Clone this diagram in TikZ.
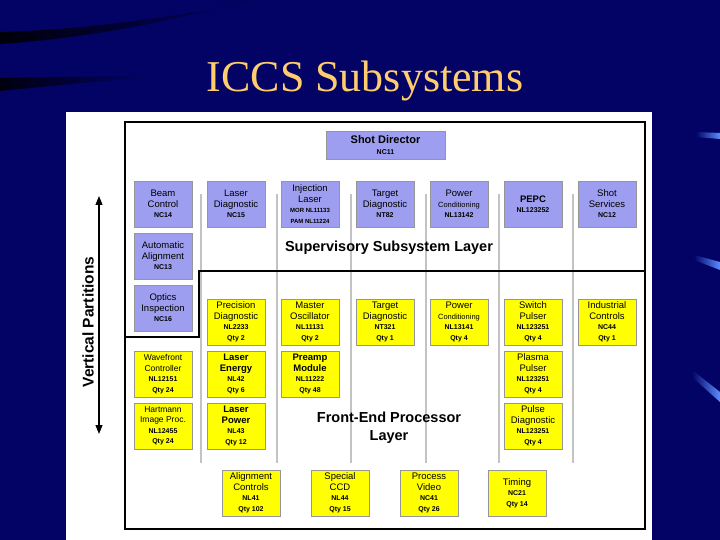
\documentclass[tikz,border=0pt]{standalone}
\usepackage{fontspec}
\setmainfont{Liberation Sans}
\newfontfamily\titlefont{Liberation Serif}
\usetikzlibrary{arrows.meta}
\definecolor{bg}{RGB}{3,3,102}
\definecolor{lav}{RGB}{158,158,240}
\definecolor{yel}{RGB}{255,255,0}
\definecolor{bord}{RGB}{150,150,150}
\definecolor{sepc}{RGB}{195,195,195}
\definecolor{titlec}{RGB}{255,204,110}
\definecolor{glow}{RGB}{90,140,255}
\newcommand\bnm{\fontsize{9.5}{10.5}\selectfont}
\newcommand\bsm{\fontsize{8.5}{10}\selectfont}
\newcommand\bcd{\fontsize{7}{8.5}\selectfont\bfseries}
\newcommand\btiny{\fontsize{6}{7}\selectfont\bfseries}
\newcommand\bcond{\fontsize{7.5}{9}\selectfont}
\begin{document}
\begin{tikzpicture}[x=1pt,y=-1pt,
  box/.style={draw=bord, line width=0.8, minimum width=58, minimum height=46, inner sep=0, align=center, font=\bnm},
  supbox/.style={box, fill=lav},
  fepbox/.style={box, fill=yel},
  layer/.style={font=\fontsize{14.5}{18}\selectfont\bfseries, align=center},
  sepline/.style={draw=sepc, line width=1.6},
  frameline/.style={draw=black, line width=1.5}]
\useasboundingbox (0,0) rectangle (720,540);
% background
\fill[bg] (0,0) rectangle (720,540);
\shade[left color=black, right color=bg, opacity=0.9] (0,32) .. controls (90,30) and (190,14) .. (265,0) -- (245,0) .. controls (180,20) and (90,38) .. (0,44) -- cycle;
\shade[left color=black, right color=bg, opacity=0.85] (0,78) .. controls (60,77) and (110,76) .. (155,77) .. controls (110,80) and (60,85) .. (0,91) -- cycle;
\shade[left color=bg, right color=glow] (696,132) -- (720,133) -- (720,139) -- (696,137) -- cycle;
\shade[left color=bg, right color=glow] (694,255) -- (720,262) -- (720,270) -- (694,260) -- cycle;
\shade[left color=bg, right color=glow] (692,370) -- (720,392) -- (720,402) -- (692,377) -- cycle;
% title
\node[font=\titlefont\fontsize{44}{44}\selectfont, text=titlec, anchor=base] (title) at (365,92) {ICCS Subsystems};
% white panel
\fill[white] (66,112) rectangle (652,540);
% column separators
\foreach \x in {201,277,351,426,499,573} \draw[sepline] (\x,194) -- (\x,463);
% frame and layer divider
\draw[frameline] (125,122) rectangle (645,529);
\draw[frameline] (125,337) -- (199,337) -- (199,271) -- (645,271);
% supervisory layer
\node[supbox, minimum width=119, minimum height=28] (shot) at (385.5,145) {\fontsize{11}{12.5}\selectfont\bfseries Shot Director\\\bcd NC11};
\node[supbox] (beam) at (163,204) {Beam\\Control\\\bcd NC14};
\node[supbox] (ldiag) at (236,204) {Laser\\Diagnostic\\\bcd NC15};
\node[supbox] (inj) at (310,204) {Injection\\Laser\\\btiny MOR NL11133\\\btiny PAM NL11224};
\node[supbox] (tdiag) at (385,204) {Target\\Diagnostic\\\bcd NT82};
\node[supbox] (pcond) at (459,204) {Power\\\bcond Conditioning\\\bcd NL13142};
\node[supbox] (pepc) at (533,204) {\bfseries PEPC\\\bcd NL123252};
\node[supbox] (shots) at (607,204) {Shot\\Services\\\bcd NC12};
\node[supbox] (autoal) at (163,256) {Automatic\\Alignment\\\bcd NC13};
\node[supbox] (optics) at (163,308) {Optics\\Inspection\\\bcd NC16};
\node[layer] (suplabel) at (389,248) {Supervisory Subsystem Layer};
% front-end processor layer
\node[fepbox] (prec) at (236,322) {Precision\\Diagnostic\\\bcd NL2233\\\bcd Qty 2};
\node[fepbox] (mosc) at (310,322) {Master\\Oscillator\\\bcd NL11131\\\bcd Qty 2};
\node[fepbox] (tdiag2) at (385,322) {Target\\Diagnostic\\\bcd NT321\\\bcd Qty 1};
\node[fepbox] (pcond2) at (459,322) {Power\\\bcond Conditioning\\\bcd NL13141\\\bcd Qty 4};
\node[fepbox] (swp) at (533,322) {Switch\\Pulser\\\bcd NL123251\\\bcd Qty 4};
\node[fepbox] (indc) at (607,322) {Industrial\\Controls\\\bcd NC44\\\bcd Qty 1};
\node[fepbox] (wave) at (163,374) {\bsm Wavefront\\\bsm Controller\\\bcd NL12151\\\bcd Qty 24};
\node[fepbox] (lener) at (236,374) {\bfseries Laser\\\bfseries Energy\\\bcd NL42\\\bcd Qty 6};
\node[fepbox] (pream) at (310,374) {\bfseries Preamp\\\bfseries Module\\\bcd NL11222\\\bcd Qty 48};
\node[fepbox] (plasma) at (533,374) {Plasma\\Pulser\\\bcd NL123251\\\bcd Qty 4};
\node[fepbox] (hart) at (163,426) {\bsm Hartmann\\\bsm Image Proc.\\\bcd NL12455\\\bcd Qty 24};
\node[fepbox] (lpow) at (236,426) {\bfseries Laser\\\bfseries Power\\\bcd NL43\\\bcd Qty 12};
\node[fepbox] (pulse) at (533,426) {Pulse\\Diagnostic\\\bcd NL123251\\\bcd Qty 4};
\node[layer] (feplabel) at (389,428) {Front-End Processor\\Layer};
\node[fepbox] (alc) at (251,493) {Alignment\\Controls\\\bcd NL41\\\bcd Qty 102};
\node[fepbox] (sccd) at (340,493) {Special\\CCD\\\bcd NL44\\\bcd Qty 15};
\node[fepbox] (pvid) at (429,493) {Process\\Video\\\bcd NC41\\\bcd Qty 26};
\node[fepbox] (timing) at (517,493) {Timing\\\bcd NC21\\\bcd Qty 14};
% vertical partitions
\node[rotate=90, font=\fontsize{15.5}{18}\selectfont\bfseries] (vpart) at (88,322) {Vertical Partitions};
\coordinate (vtop) at (99,196);
\coordinate (vbot) at (99,434);
\draw[line width=1.1, {Triangle[width=7,length=9]}-{Triangle[width=7,length=9]}] (vtop) -- (vbot);
\end{tikzpicture}
\end{document}
